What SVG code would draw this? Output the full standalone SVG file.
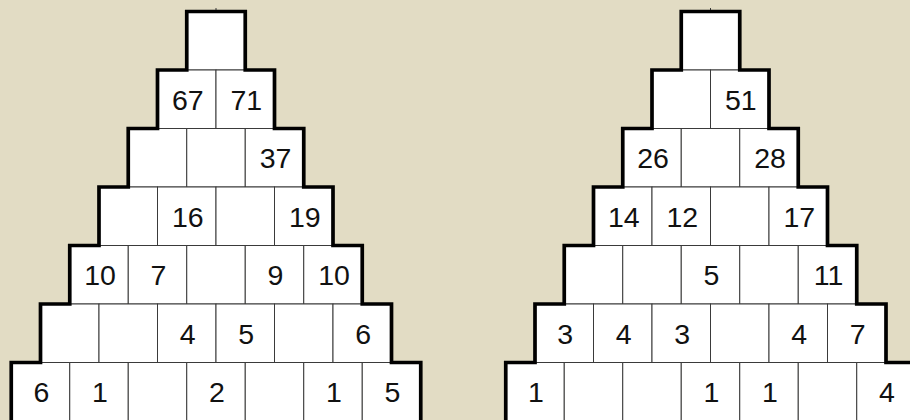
<svg xmlns="http://www.w3.org/2000/svg" width="910" height="420" viewBox="0 0 910 420">
<style>
.c{fill:#fff;stroke:#3a3a3a;stroke-width:1}
.o{fill:none;stroke:#000;stroke-width:3.7;stroke-linejoin:miter}
.t{stroke:#3a3a3a;stroke-width:1}
text{font-family:"Liberation Sans",Arial,Helvetica,sans-serif;font-size:28.5px;fill:#111;text-anchor:middle}
</style>
<rect x="0" y="0" width="910" height="420" fill="#e2dcc4"/>
<g id="pyramid-left" transform="translate(216,0)">
<g id="left-cells">
<rect class="c" x="-29.25" y="11.5" width="58.5" height="58.5"/>
<rect class="c" x="-58.5" y="70" width="58.5" height="58.5"/>
<rect class="c" x="0" y="70" width="58.5" height="58.5"/>
<rect class="c" x="-87.75" y="128.5" width="58.5" height="58.5"/>
<rect class="c" x="-29.25" y="128.5" width="58.5" height="58.5"/>
<rect class="c" x="29.25" y="128.5" width="58.5" height="58.5"/>
<rect class="c" x="-117" y="187" width="58.5" height="58.5"/>
<rect class="c" x="-58.5" y="187" width="58.5" height="58.5"/>
<rect class="c" x="0" y="187" width="58.5" height="58.5"/>
<rect class="c" x="58.5" y="187" width="58.5" height="58.5"/>
<rect class="c" x="-146.25" y="245.5" width="58.5" height="58.5"/>
<rect class="c" x="-87.75" y="245.5" width="58.5" height="58.5"/>
<rect class="c" x="-29.25" y="245.5" width="58.5" height="58.5"/>
<rect class="c" x="29.25" y="245.5" width="58.5" height="58.5"/>
<rect class="c" x="87.75" y="245.5" width="58.5" height="58.5"/>
<rect class="c" x="-175.5" y="304" width="58.5" height="58.5"/>
<rect class="c" x="-117" y="304" width="58.5" height="58.5"/>
<rect class="c" x="-58.5" y="304" width="58.5" height="58.5"/>
<rect class="c" x="0" y="304" width="58.5" height="58.5"/>
<rect class="c" x="58.5" y="304" width="58.5" height="58.5"/>
<rect class="c" x="117" y="304" width="58.5" height="58.5"/>
<rect class="c" x="-204.75" y="362.5" width="58.5" height="62"/>
<rect class="c" x="-146.25" y="362.5" width="58.5" height="62"/>
<rect class="c" x="-87.75" y="362.5" width="58.5" height="62"/>
<rect class="c" x="-29.25" y="362.5" width="58.5" height="62"/>
<rect class="c" x="29.25" y="362.5" width="58.5" height="62"/>
<rect class="c" x="87.75" y="362.5" width="58.5" height="62"/>
<rect class="c" x="146.25" y="362.5" width="58.5" height="62"/>
</g>
<line class="t" x1="0" y1="8" x2="0" y2="12"/>
<polyline class="o" points="-204.75,425 -204.75,362.5 -175.5,362.5 -175.5,304 -146.25,304 -146.25,245.5 -117,245.5 -117,187 -87.75,187 -87.75,128.5 -58.5,128.5 -58.5,70 -29.25,70 -29.25,11.5 29.25,11.5 29.25,70 58.5,70 58.5,128.5 87.75,128.5 87.75,187 117,187 117,245.5 146.25,245.5 146.25,304 175.5,304 175.5,362.5 204.75,362.5 204.75,425"/>
<g id="left-numbers" transform="translate(1,0.5)">
<text x="-29.25" y="109.25">67</text>
<text x="29.25" y="109.25">71</text>
<text x="58.5" y="167.75">37</text>
<text x="-29.25" y="226.25">16</text>
<text x="87.75" y="226.25">19</text>
<text x="-117" y="284.75">10</text>
<text x="-58.5" y="284.75">7</text>
<text x="58.5" y="284.75">9</text>
<text x="117" y="284.75">10</text>
<text x="-29.25" y="343.25">4</text>
<text x="29.25" y="343.25">5</text>
<text x="146.25" y="343.25">6</text>
<text x="-175.5" y="401.75">6</text>
<text x="-117" y="401.75">1</text>
<text x="0" y="401.75">2</text>
<text x="117" y="401.75">1</text>
<text x="175.5" y="401.75">5</text>
</g>
</g>
<g id="pyramid-right" transform="translate(710.5,0)">
<g id="right-cells">
<rect class="c" x="-29.25" y="11.5" width="58.5" height="58.5"/>
<rect class="c" x="-58.5" y="70" width="58.5" height="58.5"/>
<rect class="c" x="0" y="70" width="58.5" height="58.5"/>
<rect class="c" x="-87.75" y="128.5" width="58.5" height="58.5"/>
<rect class="c" x="-29.25" y="128.5" width="58.5" height="58.5"/>
<rect class="c" x="29.25" y="128.5" width="58.5" height="58.5"/>
<rect class="c" x="-117" y="187" width="58.5" height="58.5"/>
<rect class="c" x="-58.5" y="187" width="58.5" height="58.5"/>
<rect class="c" x="0" y="187" width="58.5" height="58.5"/>
<rect class="c" x="58.5" y="187" width="58.5" height="58.5"/>
<rect class="c" x="-146.25" y="245.5" width="58.5" height="58.5"/>
<rect class="c" x="-87.75" y="245.5" width="58.5" height="58.5"/>
<rect class="c" x="-29.25" y="245.5" width="58.5" height="58.5"/>
<rect class="c" x="29.25" y="245.5" width="58.5" height="58.5"/>
<rect class="c" x="87.75" y="245.5" width="58.5" height="58.5"/>
<rect class="c" x="-175.5" y="304" width="58.5" height="58.5"/>
<rect class="c" x="-117" y="304" width="58.5" height="58.5"/>
<rect class="c" x="-58.5" y="304" width="58.5" height="58.5"/>
<rect class="c" x="0" y="304" width="58.5" height="58.5"/>
<rect class="c" x="58.5" y="304" width="58.5" height="58.5"/>
<rect class="c" x="117" y="304" width="58.5" height="58.5"/>
<rect class="c" x="-204.75" y="362.5" width="58.5" height="62"/>
<rect class="c" x="-146.25" y="362.5" width="58.5" height="62"/>
<rect class="c" x="-87.75" y="362.5" width="58.5" height="62"/>
<rect class="c" x="-29.25" y="362.5" width="58.5" height="62"/>
<rect class="c" x="29.25" y="362.5" width="58.5" height="62"/>
<rect class="c" x="87.75" y="362.5" width="58.5" height="62"/>
<rect class="c" x="146.25" y="362.5" width="58.5" height="62"/>
</g>
<line class="t" x1="0" y1="8" x2="0" y2="12"/>
<polyline class="o" points="-204.75,425 -204.75,362.5 -175.5,362.5 -175.5,304 -146.25,304 -146.25,245.5 -117,245.5 -117,187 -87.75,187 -87.75,128.5 -58.5,128.5 -58.5,70 -29.25,70 -29.25,11.5 29.25,11.5 29.25,70 58.5,70 58.5,128.5 87.75,128.5 87.75,187 117,187 117,245.5 146.25,245.5 146.25,304 175.5,304 175.5,362.5 204.75,362.5 204.75,425"/>
<g id="right-numbers" transform="translate(1,0.5)">
<text x="29.25" y="109.25">51</text>
<text x="-58.5" y="167.75">26</text>
<text x="58.5" y="167.75">28</text>
<text x="-87.75" y="226.25">14</text>
<text x="-29.25" y="226.25">12</text>
<text x="87.75" y="226.25">17</text>
<text x="0" y="284.75">5</text>
<text x="117" y="284.75">11</text>
<text x="-146.25" y="343.25">3</text>
<text x="-87.75" y="343.25">4</text>
<text x="-29.25" y="343.25">3</text>
<text x="87.75" y="343.25">4</text>
<text x="146.25" y="343.25">7</text>
<text x="-175.5" y="401.75">1</text>
<text x="0" y="401.75">1</text>
<text x="58.5" y="401.75">1</text>
<text x="175.5" y="401.75">4</text>
</g>
</g>
</svg>
